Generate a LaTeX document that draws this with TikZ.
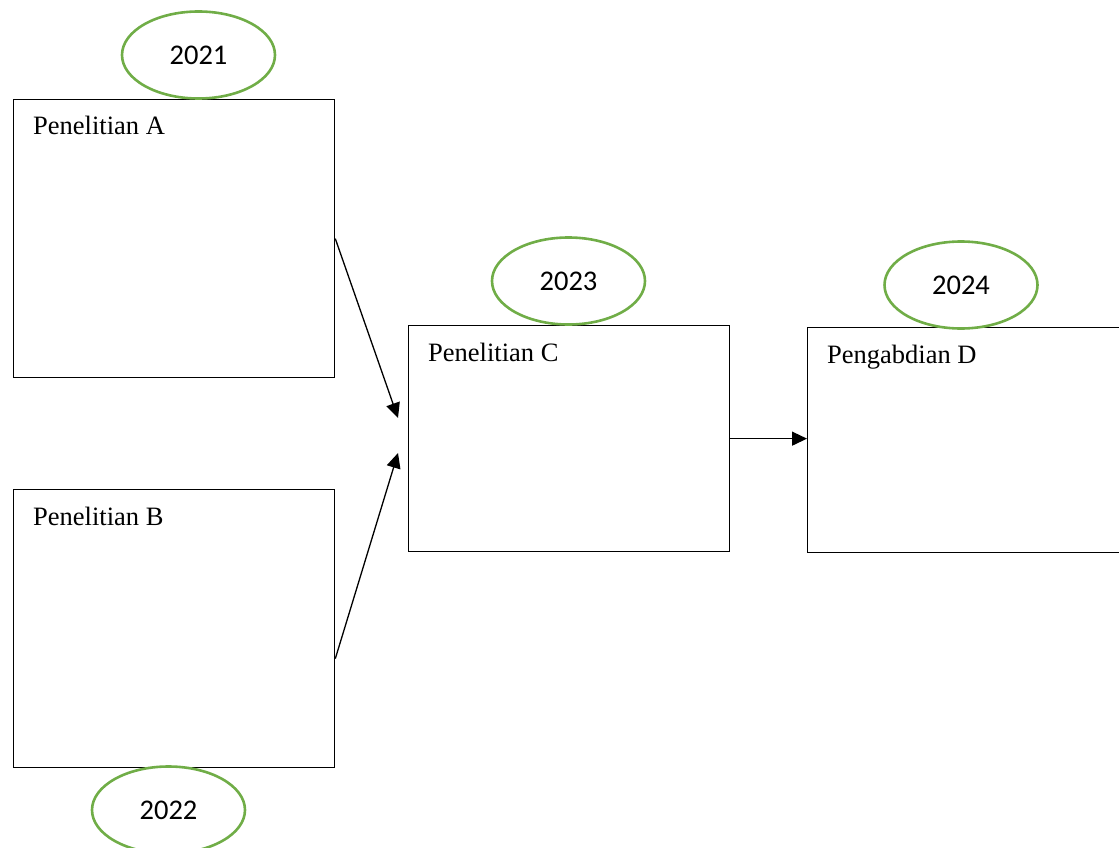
\documentclass[tikz,border=0pt]{standalone}
\usepackage{fontspec}
\setmainfont{Liberation Serif}
\newfontfamily\yearfont{Carlito}
\usepackage{xcolor}
\usetikzlibrary{positioning,arrows.meta,shapes.geometric}
\definecolor{yeargreen}{HTML}{70AD47}

\begin{document}
\begin{tikzpicture}[x=1pt,y=-1pt,>={Triangle[length=15pt,width=14pt]},
  box/.style={draw, line width=1.3pt, minimum width=321pt, inner sep=0pt, anchor=north west},
  year/.style={draw=yeargreen, line width=2.6pt, ellipse, minimum width=153pt, minimum height=87pt, inner sep=0pt, font=\yearfont\fontsize{28.5}{34}\selectfont},
  title/.style={anchor=base west, inner sep=0pt, font=\fontsize{26.5}{30}\selectfont}]
\useasboundingbox (0,0) rectangle (1119,848);

%Kotak penelitian dan pengabdian
\node[box, minimum height=278pt] (A) at (13,99) {};
\node[box, minimum height=278pt] (B) at (13,489) {};
\node[box, minimum height=226pt] (C) at (408,325) {};
\node[box, minimum height=225pt] (D) at (807,327) {};

%Judul di pojok kiri atas
\node[title] (tA) at ([shift={(20,36)}]A.north west) {Penelitian A};
\node[title] (tB) at ([shift={(20,36)}]B.north west) {Penelitian B};
\node[title] (tC) at ([shift={(20,36)}]C.north west) {Penelitian C};
\node[title] (tD) at ([shift={(20,36)}]D.north west) {Pengabdian D};

%Tahun
\node[year] (y21) at (198.5,55) {2021};
\node[year] (y22) at (168.5,810) {2022};
\node[year] (y23) at (568.5,281) {2023};
\node[year] (y24) at (961,285) {2024};

%Panah
\coordinate (cA) at (398,418);
\coordinate (cB) at (398,453);
\draw[->, line width=1.3pt] (A.east) -- (cA);
\draw[->, line width=1.3pt] ([yshift=-30pt]B.east) -- (cB);
\draw[->, line width=1.3pt] (C.east) -- (C.east -| D.west);

\end{tikzpicture}
\end{document}
